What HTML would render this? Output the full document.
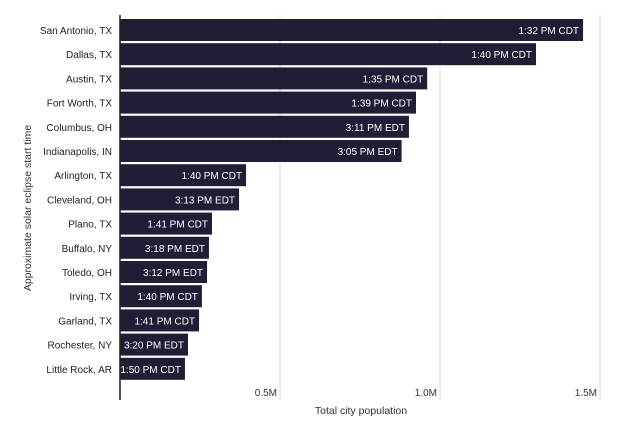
<!DOCTYPE html>
<html><head><meta charset="utf-8"><style>
body{margin:0;background:#fff;font-family:"Liberation Sans",sans-serif;}
svg text{font-family:"Liberation Sans",sans-serif;}
</style></head><body>
<svg id="chart" width="620" height="433" viewBox="0 0 620 433" xmlns="http://www.w3.org/2000/svg"></svg>
<script>
const cities=["San Antonio, TX","Dallas, TX","Austin, TX","Fort Worth, TX","Columbus, OH","Indianapolis, IN","Arlington, TX","Cleveland, OH","Plano, TX","Buffalo, NY","Toledo, OH","Irving, TX","Garland, TX","Rochester, NY","Little Rock, AR"];
const population=[1.447,1.30,0.96,0.925,0.903,0.88,0.394,0.372,0.2875,0.278,0.272,0.256,0.247,0.2125,0.203];
const times=["1:32 PM CDT","1:40 PM CDT","1:35 PM CDT","1:39 PM CDT","3:11 PM EDT","3:05 PM EDT","1:40 PM CDT","3:13 PM EDT","1:41 PM CDT","3:18 PM EDT","3:12 PM EDT","1:40 PM CDT","1:41 PM CDT","3:20 PM EDT","1:50 PM CDT"];
const ticks=[0.5,1.0,1.5];
const tickLabels=["0.5M","1.0M","1.5M"];
const svg=document.getElementById('chart');
const NS="http://www.w3.org/2000/svg";
const x0=120,pxPerM=320,top0=19,step=24.2,bh=22;
const X=v=>x0+v*pxPerM;
const Y=i=>top0+i*step;
function mk(t,a){const e=document.createElementNS(NS,t);for(const k in a)e.setAttribute(k,a[k]);svg.appendChild(e);return e;}
ticks.forEach((t,i)=>{
 const g=mk('line',{x1:X(t),x2:X(t),y1:15,y2:400,stroke:'#dcdcdc','stroke-width':1});
 
 
 const l=mk('text',{x:X(t)-3,y:396,'text-anchor':'end','font-size':10,fill:'#333'});
 l.textContent=tickLabels[i];
 
 
});
cities.forEach((c,i)=>{
 const b=mk('rect',{x:x0,y:Y(i),width:X(population[i])-x0,height:bh,fill:'#1f1e36'});
 
 
 const v=mk('text',{x:X(population[i])-4,y:Y(i)+bh/2+4,'text-anchor':'end','font-size':10,fill:'#fff'});
 v.textContent=times[i];
 
 
 const l=mk('text',{x:112,y:Y(i)+bh/2+4,'text-anchor':'end','font-size':10,fill:'#222'});
 l.textContent=c;
 
 
});
const ax=mk('line',{x1:x0,x2:x0,y1:15,y2:400,stroke:'#222','stroke-width':1.5});


const xt=mk('text',{x:361,y:414,'text-anchor':'middle','font-size':10.5,fill:'#333'});
xt.textContent='Total city population';


const yt=mk('text',{x:0,y:0,'text-anchor':'middle','font-size':10.5,fill:'#333',transform:'translate(31,208) rotate(-90)'});
yt.textContent='Approximate solar eclipse start time';


</script>
</body></html>
